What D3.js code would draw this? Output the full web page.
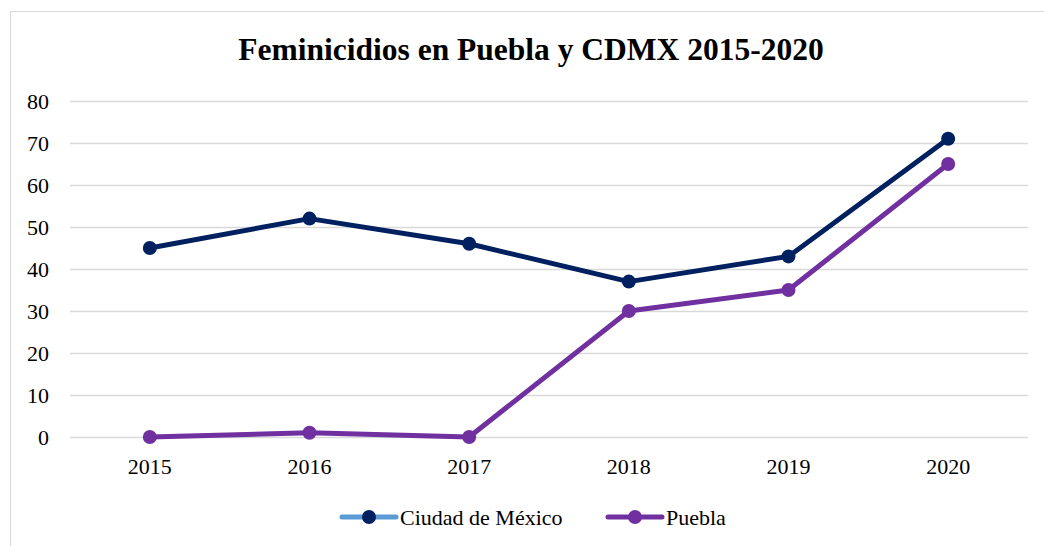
<!DOCTYPE html>
<html><head><meta charset="utf-8">
<script src="https://cdn.jsdelivr.net/npm/d3@7"></script>
<style>body{margin:0;background:#fff}svg{display:block}svg text{fill:#000}</style>
</head><body>
<script>
const categories = ["2015","2016","2017","2018","2019","2020"];
const cdmx = [45, 52, 46, 37, 43, 71];
const puebla = [0, 1, 0, 30, 35, 65];
const yTicks = [0,10,20,30,40,50,60,70,80];
const seriesNames = ["Ciudad de México","Puebla"];

const W=1044,H=546;
const FONT='"Liberation Serif","Times New Roman",Times,serif';
const svg=d3.select("body").append("svg").attr("width",W).attr("height",H).attr("font-family",FONT);
svg.append("rect").attr("x",10.5).attr("y",11.5).attr("width",1040).attr("height",545).attr("fill","#fff").attr("stroke","#d9d9d9");

const x=d3.scaleBand().domain(categories).range([70,1028]);
const y=d3.scaleLinear().domain([0,80]).range([437,101]);

svg.append("text").attr("x",531).attr("y",60).attr("text-anchor","middle").attr("font-size",31.5).attr("font-weight","bold").attr("font-family",FONT).text("Feminicidios en Puebla y CDMX 2015-2020");

const g=svg.append("g");
g.selectAll("line.grid").data(yTicks).join("line").attr("class","grid")
 .attr("x1",70).attr("x2",1028).attr("y1",d=>Math.round(y(d))+0.5).attr("y2",d=>Math.round(y(d))+0.5)
 .attr("stroke","#d9d9d9").attr("stroke-width",1.5);

const yAxis=svg.append("g").attr("transform","translate(49,0)").call(d3.axisLeft(y).tickValues(yTicks).tickSize(0).tickPadding(0));
yAxis.attr("font-family",FONT).attr("font-size",22);
yAxis.select(".domain").remove();
yAxis.selectAll("text").attr("dy","0.35em");

const xAxis=svg.append("g").attr("transform","translate(0,437)").call(d3.axisBottom(x).tickSize(0).tickPadding(21));
xAxis.attr("font-family",FONT).attr("font-size",22);
xAxis.select(".domain").remove();

const cx=c=>x(c)+x.bandwidth()/2;
const line=d3.line().x((d,i)=>cx(categories[i])).y(d=>y(d));
const series=[{v:cdmx,c:"#002060"},{v:puebla,c:"#7030A0"}];
series.forEach(s=>{
  svg.append("path").datum(s.v).attr("d",line).attr("fill","none").attr("stroke",s.c).attr("stroke-width",5).attr("stroke-linejoin","round");
  svg.selectAll(null).data(s.v).join("circle").attr("cx",(d,i)=>cx(categories[i])).attr("cy",d=>y(d)).attr("r",7).attr("fill",s.c);
});

// legend
const leg=svg.append("g");
const items=[{name:seriesNames[0],line:"#5B9BD5",dot:"#002060",x:342},{name:seriesNames[1],line:"#7030A0",dot:"#7030A0",x:608}];
items.forEach(it=>{
  leg.append("line").attr("x1",it.x).attr("x2",it.x+54).attr("y1",517).attr("y2",517).attr("stroke",it.line).attr("stroke-width",5).attr("stroke-linecap","round");
  leg.append("circle").attr("cx",it.x+27).attr("cy",517).attr("r",7).attr("fill",it.dot);
  leg.append("text").attr("x",it.x+58).attr("y",517).attr("dy","0.35em").attr("font-size",22).attr("font-family",FONT).text(it.name);
});
</script>
</body></html>
